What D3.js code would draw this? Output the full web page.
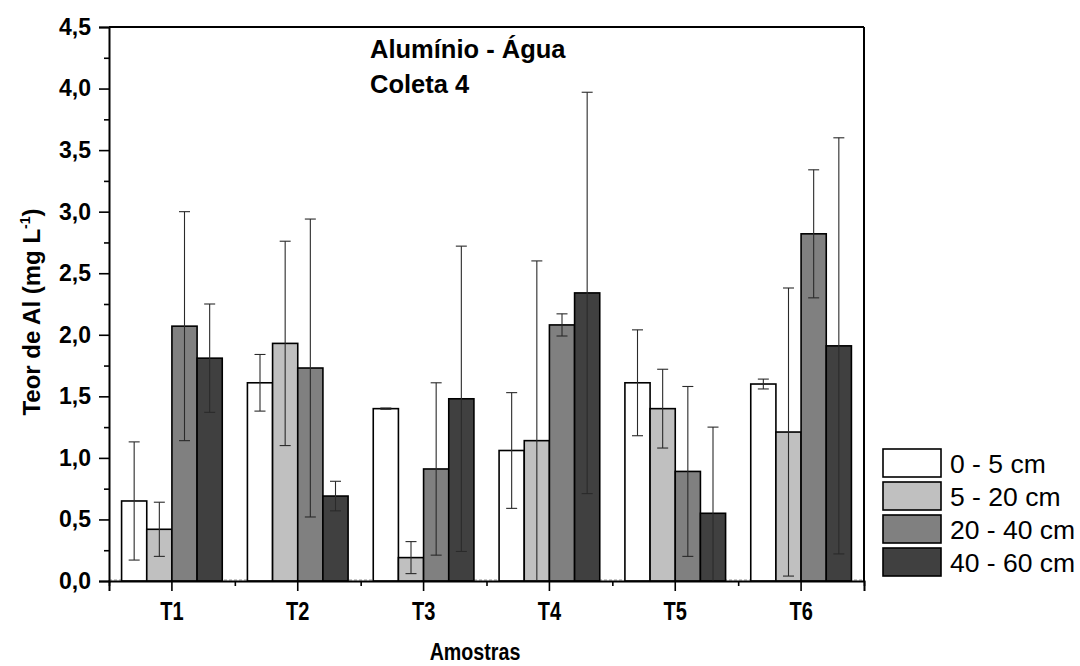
<!DOCTYPE html>
<html>
<head>
<meta charset="utf-8">
<script src="https://cdn.jsdelivr.net/npm/d3@7"></script>
<style>
  html, body { margin: 0; padding: 0; background: #fff; }
  svg { display: block; font-family: "Liberation Sans", Arial, Helvetica, sans-serif; }
</style>
</head>
<body>
<svg id="chart" width="1080" height="666"></svg>
<script>
// Sampling points and soil depth layers
const samples = ["T1", "T2", "T3", "T4", "T5", "T6"];
const depths = ["0 - 5 cm", "5 - 20 cm", "20 - 40 cm", "40 - 60 cm"];
const depthFills = ["#ffffff", "#c0c0c0", "#808080", "#404040"];

// Mean Al content (mg L-1) per depth, one value per sample
const depth0_5   = [0.65, 1.61, 1.40, 1.06, 1.61, 1.60];
const depth5_20  = [0.42, 1.93, 0.19, 1.14, 1.40, 1.21];
const depth20_40 = [2.07, 1.73, 0.91, 2.08, 0.89, 2.82];
const depth40_60 = [1.81, 0.69, 1.48, 2.34, 0.55, 1.91];

// Standard deviations (error bars)
const sd0_5   = [0.48, 0.23, 0.005, 0.47, 0.43, 0.04];
const sd5_20  = [0.22, 0.83, 0.13, 1.46, 0.32, 1.17];
const sd20_40 = [0.93, 1.21, 0.70, 0.09, 0.69, 0.52];
const sd40_60 = [0.44, 0.12, 1.24, 1.63, 0.70, 1.69];

const yTicks = [0, 0.5, 1, 1.5, 2, 2.5, 3, 3.5, 4, 4.5];

const means = [depth0_5, depth5_20, depth20_40, depth40_60];
const sds = [sd0_5, sd5_20, sd20_40, sd40_60];

const rows = [];
samples.forEach((s, i) => {
  depths.forEach((d, j) => {
    rows.push({ sample: s, depth: d, idx: j, value: means[j][i], sd: sds[j][i] });
  });
});

const svg = d3.select("#chart");
const mLeft = 109, mRight = 864, mTop = 27, mBottom = 581;

const x = d3.scaleBand().domain(samples).range([mLeft, mRight])
  .paddingInner(0.2).paddingOuter(0.1);
const xs = d3.scaleBand().domain(depths).range([0, x.bandwidth()]);
const y = d3.scaleLinear().domain([0, 4.5]).range([mBottom, mTop]);

const fmt = v => d3.format(".1f")(v).replace(".", ",");

// Baseline reference at zero
svg.append("line")
  .attr("x1", mLeft).attr("x2", mRight)
  .attr("y1", y(0) - 1).attr("y2", y(0) - 1)
  .attr("stroke", "#999").attr("stroke-width", 1.2)
  .attr("stroke-dasharray", "3,2");

// Bars, clipped to the plot frame
svg.append("clipPath").attr("id", "plotclip")
  .append("rect").attr("x", mLeft).attr("y", mTop)
  .attr("width", mRight - mLeft).attr("height", mBottom - mTop);

const plot = svg.append("g").attr("clip-path", "url(#plotclip)");

plot.selectAll("rect.bar").data(rows).join("rect")
  .attr("class", "bar")
  .attr("x", d => x(d.sample) + xs(d.depth))
  .attr("y", d => y(d.value))
  .attr("width", xs.bandwidth())
  .attr("height", d => y(0) - y(d.value))
  .attr("fill", d => depthFills[d.idx])
  .attr("stroke", "#000")
  .attr("stroke-width", 1.6);

// Error bars
const eb = plot.selectAll("g.err").data(rows).join("g").attr("class", "err")
  .attr("stroke", "#2a2a2a").attr("stroke-width", 1.1);
const cx = d => x(d.sample) + xs(d.depth) + xs.bandwidth() / 2;
const capW = 5.5;
eb.append("line")
  .attr("x1", cx).attr("x2", cx)
  .attr("y1", d => y(d.value + d.sd)).attr("y2", d => y(d.value - d.sd));
eb.append("line")
  .attr("x1", d => cx(d) - capW).attr("x2", d => cx(d) + capW)
  .attr("y1", d => y(d.value + d.sd)).attr("y2", d => y(d.value + d.sd));
eb.append("line")
  .attr("x1", d => cx(d) - capW).attr("x2", d => cx(d) + capW)
  .attr("y1", d => y(d.value - d.sd)).attr("y2", d => y(d.value - d.sd));

// Y axis: major ticks with labels, minor ticks between
const yAxis = svg.append("g").attr("transform", `translate(${mLeft},0)`)
  .call(d3.axisLeft(y).tickValues(yTicks).tickFormat(fmt).tickSize(10).tickPadding(8));
svg.append("g").attr("transform", `translate(${mLeft},0)`)
  .call(d3.axisLeft(y).tickValues(yTicks.slice(0, -1).map(v => v + 0.25)).tickFormat("").tickSize(5))
  .select(".domain").remove();

// X axis: major ticks at sample centres, minor ticks at group boundaries
const xAxis = svg.append("g").attr("transform", `translate(0,${mBottom})`)
  .call(d3.axisBottom(x).tickSize(10).tickPadding(11));
const xb = d3.scaleLinear().domain([0, samples.length]).range([mLeft, mRight]);
svg.append("g").attr("transform", `translate(0,${mBottom})`)
  .call(d3.axisBottom(xb).tickValues(d3.range(0, samples.length + 1)).tickFormat("").tickSize(5))
  .select(".domain").remove();

svg.selectAll(".domain").attr("stroke-width", 2).attr("stroke", "#000");
svg.selectAll(".tick line").attr("stroke-width", 1.6).attr("stroke", "#000");
yAxis.selectAll(".tick text")
  .attr("font-size", 23).attr("font-weight", "bold").attr("fill", "#000")
  .attr("font-family", "Liberation Sans, Arial, sans-serif");
// sample labels use a condensed face
xAxis.selectAll(".tick text")
  .attr("font-size", 25).attr("font-weight", "bold").attr("fill", "#000")
  .attr("font-family", "Liberation Sans, Arial, sans-serif")
  .attr("transform", "scale(0.8,1)");

// Frame: top and right edges
svg.append("line").attr("x1", mLeft).attr("x2", mRight).attr("y1", mTop).attr("y2", mTop)
  .attr("stroke", "#000").attr("stroke-width", 2);
svg.append("line").attr("x1", mRight).attr("x2", mRight).attr("y1", mTop).attr("y2", mBottom)
  .attr("stroke", "#000").attr("stroke-width", 2);

// Axis titles
const yt = svg.append("text")
  .attr("transform", `translate(40,${(mTop + mBottom) / 2 + 8}) rotate(-90)`)
  .attr("text-anchor", "middle").attr("font-size", 24).attr("font-weight", "bold");
yt.append("tspan").text("Teor de Al (mg L");
yt.append("tspan").attr("dy", -10).attr("font-size", 14).text("-1");
yt.append("tspan").attr("dy", 10).text(")");

svg.append("g").attr("transform", "translate(475,660)")
  .append("text").attr("transform", "scale(0.82,1)")
  .attr("text-anchor", "middle").attr("font-size", 24).attr("font-weight", "bold")
  .text("Amostras");

// Title
svg.append("text").attr("x", 370).attr("y", 58)
  .attr("font-size", 25.5).attr("font-weight", "bold").text("Alumínio - Água");
svg.append("text").attr("x", 370).attr("y", 93)
  .attr("font-size", 25.5).attr("font-weight", "bold").text("Coleta 4");

// Legend
const lg = svg.append("g").attr("transform", "translate(883,449)");
const li = lg.selectAll("g").data(depths).join("g")
  .attr("transform", (d, i) => `translate(0,${i * 33})`);
li.append("rect").attr("width", 58).attr("height", 28)
  .attr("fill", (d, i) => depthFills[i]).attr("stroke", "#000").attr("stroke-width", 1.6);
li.append("text").attr("x", 67).attr("y", 23.5).attr("font-size", 26.5).text(d => d);
</script>
</body>
</html>
